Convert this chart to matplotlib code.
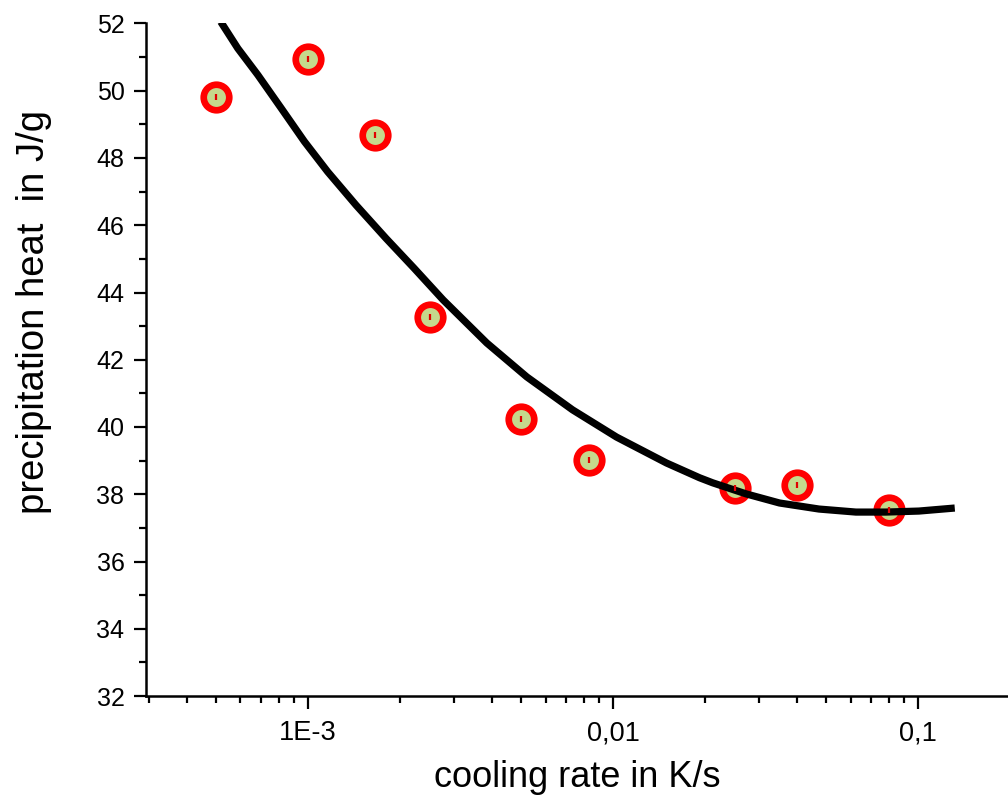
import matplotlib
matplotlib.use("Agg")
import matplotlib.pyplot as plt
from matplotlib.ticker import FixedLocator, FixedFormatter, LogLocator, MultipleLocator, NullFormatter

plt.rcParams['font.family'] = ['Liberation Sans', 'DejaVu Sans']

# measured data points
rate = [5.0e-4, 1.0e-3, 1.66e-3, 2.5e-3, 5.0e-3, 8.33e-3, 0.025, 0.04, 0.08]
heat = [49.82, 50.94, 48.68, 43.26, 40.23, 39.02, 38.18, 38.28, 37.52]
heat_err = [0.09, 0.09, 0.09, 0.09, 0.09, 0.09, 0.09, 0.09, 0.09]

# fitted curve
fit_rate = [5.17e-4, 5.88e-4, 6.84e-4, 8.16e-4, 9.72e-4, 1.159e-3, 1.435e-3, 1.80e-3,
            2.226e-3, 2.77e-3, 3.85e-3, 5.21e-3, 7.36e-3, 1.026e-2, 1.495e-2, 1.92e-2,
            2.12e-2, 2.73e-2, 3.51e-2, 4.73e-2, 6.25e-2, 7.83e-2, 0.1005, 0.1318]
fit_heat = [52.05, 51.26, 50.47, 49.48, 48.49, 47.59, 46.60, 45.61,
            44.72, 43.78, 42.50, 41.49, 40.51, 39.70, 38.93, 38.49,
            38.34, 38.01, 37.74, 37.56, 37.47, 37.47, 37.50, 37.59]

xticks = [1e-3, 1e-2, 1e-1]
xticklabels = ['1E-3', '0,01', '0,1']
yticks = [32, 34, 36, 38, 40, 42, 44, 46, 48, 50, 52]

W, H = 1008, 798
fig = plt.figure(figsize=(W / 100, H / 100), dpi=100)
ax = fig.add_axes([146 / W, 1 - 696 / H, 1 - 146 / W, (696 - 23.5) / H])

ax.set_xscale('log')
ax.set_xlim(2.94e-4, 0.197)
ax.set_ylim(32, 52)

ax.plot(rate, heat, 'o', ms=18.4, mfc='#C5D98C', mec='#FF0000', mew=4.8, zorder=3, linestyle='none')
ax.plot(fit_rate, fit_heat, color='black', lw=5.2, zorder=4, solid_capstyle='butt',
        solid_joinstyle='round')
ax.errorbar(rate, heat, yerr=heat_err, fmt='none', ecolor='#E00000', elinewidth=1.6, capsize=0, zorder=5)

for s in ['top', 'right']:
    ax.spines[s].set_visible(False)
for s in ['left', 'bottom']:
    ax.spines[s].set_linewidth(1.8)

ax.xaxis.set_major_locator(FixedLocator(xticks))
ax.xaxis.set_major_formatter(FixedFormatter(xticklabels))
ax.xaxis.set_minor_locator(LogLocator(base=10, subs=[2, 3, 4, 5, 6, 7, 8, 9]))
ax.xaxis.set_minor_formatter(NullFormatter())
ax.set_yticks(yticks)
ax.yaxis.set_minor_locator(MultipleLocator(1))

ax.tick_params(axis='both', which='major', direction='out', width=1.6, length=9)
ax.tick_params(axis='both', which='minor', direction='out', width=1.6, length=4.8)
ax.tick_params(axis='x', which='major', labelsize=19.5, pad=8.5)
ax.tick_params(axis='y', which='major', labelsize=18, pad=6.5)

ax.set_xlabel('cooling rate in K/s', fontsize=26)
ax.xaxis.set_label_coords(0.5, (696 - 787) / 672.5)
ax.xaxis.label.set_va('baseline')

ax.set_ylabel('precipitation heat  in J/g', fontsize=27.5)
ax.yaxis.set_label_coords((34 - 146) / 862, (696 - 312) / 672.5)
ax.yaxis.label.set_va('center')

fig.savefig('out.png', dpi=100)
